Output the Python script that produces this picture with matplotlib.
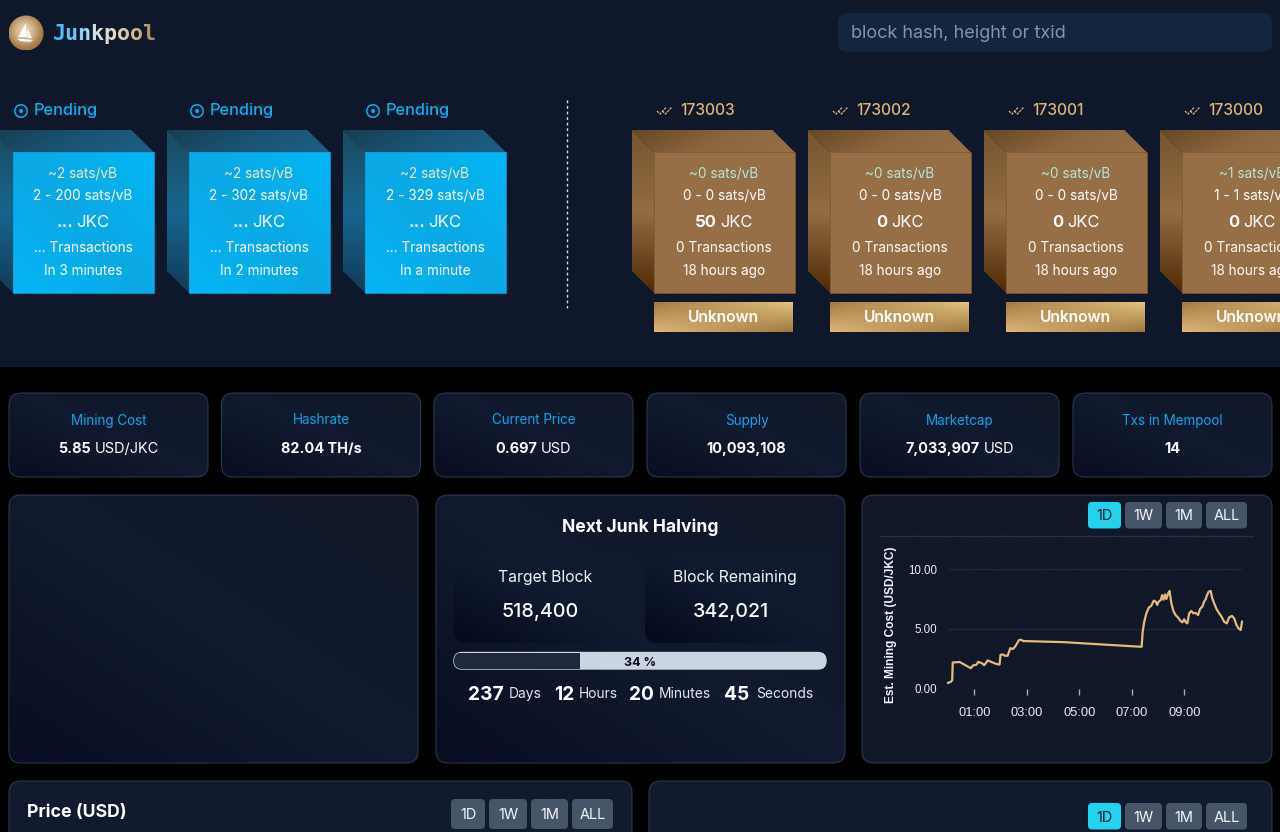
import numpy as np
import matplotlib
matplotlib.use("Agg")
import matplotlib.pyplot as plt
from matplotlib.patches import FancyBboxPatch, Polygon, Circle, Rectangle
from matplotlib.colors import to_rgb

# ---------- data ----------
BRAND = "Junkpool"
SEARCH_HINT = "block hash, height or txid"

pending_fee = ["~2 sats/vB", "~2 sats/vB", "~2 sats/vB"]
pending_range = ["2 - 200 sats/vB", "2 - 302 sats/vB", "2 - 329 sats/vB"]
pending_eta = ["In 3 minutes", "In 2 minutes", "In a minute"]

block_heights = ["173003", "173002", "173001", "173000"]
block_fee = ["~0 sats/vB", "~0 sats/vB", "~0 sats/vB", "~1 sats/vB"]
block_range = ["0 - 0 sats/vB", "0 - 0 sats/vB", "0 - 0 sats/vB", "1 - 1 sats/vB"]
block_reward = ["50", "0", "0", "0"]

stat_titles = ["Mining Cost", "Hashrate", "Current Price", "Supply", "Marketcap", "Txs in Mempool"]
stat_values = ["5.85", "82.04 TH/s", "0.697", "10,093,108", "7,033,907", "14"]
stat_units = ["USD/JKC", "", "USD", "", "USD", ""]

countdown_values = ["237", "12", "20", "45"]
countdown_units = ["Days", "Hours", "Minutes", "Seconds"]
halving_progress = 34
range_buttons = ["1D", "1W", "1M", "ALL"]

cost_hours = [0, .11, .16, .18, .34, .44, .59, .75, .87, .95, 1.08, 1.15, 1.29, 1.38, 1.51, 1.67,
              1.82, 1.96, 2.0, 2.09, 2.16, 2.27, 2.37, 2.47, 2.57, 2.70, 2.77, 2.87, 4.4, 5.9, 7.37,
              7.41, 7.47, 7.55, 7.64, 7.74, 7.83, 7.91, 7.96, 8.02, 8.10, 8.15, 8.20, 8.26, 8.31,
              8.38, 8.43, 8.45, 8.50, 8.58, 8.66, 8.76, 8.85, 8.92, 8.99, 9.05, 9.11, 9.18, 9.26,
              9.34, 9.43, 9.52, 9.59, 9.68, 9.75, 9.81, 9.86, 9.92, 10.0, 10.05, 10.13, 10.22,
              10.30, 10.41, 10.51, 10.61, 10.70, 10.81, 10.89, 10.98, 11.06, 11.14, 11.19]
cost_usd = [.47, .56, .7, 2.18, 2.2, 2.22, 2.04, 1.84, 1.7, 1.93, 1.98, 2.23, 2.12, 1.95, 2.35, 2.2,
            2.07, 2.0, 2.82, 2.85, 2.74, 2.74, 3.38, 3.3, 3.55, 4.05, 4.08, 3.97, 3.88, 3.68, 3.49,
            4.76, 5.59, 6.29, 6.76, 6.93, 7.35, 7.27, 6.99, 7.27, 7.41, 7.82, 7.43, 7.88, 7.49,
            7.96, 8.16, 7.88, 7.13, 6.49, 6.15, 5.93, 5.65, 5.54, 5.79, 5.54, 5.45, 6.29, 6.49,
            6.29, 6.32, 6.15, 6.65, 6.85, 7.27, 7.49, 7.82, 8.10, 8.16, 7.60, 7.13, 6.65,
            6.37, 6.01, 5.59, 5.45, 5.95, 6.07, 5.87, 5.31, 5.03, 4.90, 5.59]
cost_tick_hours = [1, 3, 5, 7, 9]
cost_tick_labels = ["01:00", "03:00", "05:00", "07:00", "09:00"]
cost_y_ticks = [0, 5, 10]
cost_y_labels = ["0.00", "5.00", "10.00"]

# ---------- canvas ----------
W, H = 1280, 832
FONT = "Inter"
fig = plt.figure(figsize=(W / 100, H / 100), dpi=100, facecolor="#000000")
ax = fig.add_axes([0, 0, 1, 1])
ax.set_xlim(0, W)
ax.set_ylim(H, 0)
ax.axis("off")
ax.set_autoscale_on(False)


def c3(col):
    return np.array(to_rgb(col))


def paint_stops(patch, box, stops, angle=(1, 0), z=1):
    x0, y0, x1, y1 = box
    n = 128
    xs, ys = np.meshgrid(np.linspace(0, 1, n), np.linspace(0, 1, n))
    t = xs * angle[0] + ys * angle[1]
    t = (t - t.min()) / max(t.max() - t.min(), 1e-6)
    cols = np.array([c3(s) for s in stops])
    pos = np.linspace(0, 1, len(stops))
    img = np.dstack([np.interp(t, pos, cols[:, i]) for i in range(3)])
    im = ax.imshow(img, extent=(x0, x1, y1, y0), aspect="auto", zorder=z, origin="upper",
                   interpolation="bilinear")
    im.set_clip_path(patch)


def paint_corners(patch, box, tl, tr, bl, br, z=1):
    x0, y0, x1, y1 = box
    xs, ys = np.meshgrid(np.linspace(0, 1, 64), np.linspace(0, 1, 64))
    a, b, c, d = c3(tl), c3(tr), c3(bl), c3(br)
    img = np.dstack([(a[i] * (1 - xs) + b[i] * xs) * (1 - ys) + (c[i] * (1 - xs) + d[i] * xs) * ys
                     for i in range(3)])
    im = ax.imshow(img, extent=(x0, x1, y1, y0), aspect="auto", zorder=z, origin="upper",
                   interpolation="bilinear")
    im.set_clip_path(patch)


def rrect(x0, y0, x1, y1, r, fc="none", ec="none", lw=0, z=1):
    p = FancyBboxPatch((x0 + r, y0 + r), x1 - x0 - 2 * r, y1 - y0 - 2 * r,
                       boxstyle=f"round,pad={r},rounding_size={r}", fc=fc, ec=ec, lw=lw, zorder=z)
    ax.add_patch(p)
    return p


def T(x, y, s, px, color="white", ha="center", weight="normal", family=None, z=6):
    return ax.text(x, y, s, fontsize=px * 0.72, color=color, ha=ha, va="baseline",
                   fontweight=weight, family=family or FONT, zorder=z)


def mixed(cx, y, bold, reg, px, color="white", gap_em=0.28):
    r = fig.canvas.get_renderer()
    a = T(0, y, bold, px, color, ha="left", weight="bold")
    wa = a.get_window_extent(r).width
    wb, b = 0, None
    if reg:
        b = T(0, y, reg, px, color, ha="left")
        wb = b.get_window_extent(r).width
    gap = px * gap_em if reg else 0
    left = cx - (wa + wb + gap) / 2
    a.set_x(left)
    if b is not None:
        b.set_x(left + wa + gap)


# backgrounds
ax.add_patch(Rectangle((0, 0), W, 367, fc="#0f172a", ec="none", zorder=0))

# logo
logo = Circle((26, 33), 17.5, fc="none", ec="none", zorder=1)
ax.add_patch(logo)
xs, ys = np.meshgrid(np.linspace(-1, 1, 80), np.linspace(-1, 1, 80))
rad = np.clip(np.hypot(xs + .1, ys + .1), 0, 1)
inner, outer = c3("#ecd8b8"), c3("#a67a48")
logo_img = np.dstack([inner[i] + (outer[i] - inner[i]) * rad ** 1.4 for i in range(3)])
im = ax.imshow(logo_img, extent=(8.5, 43.5, 50.5, 15.5), aspect="auto", zorder=1, interpolation="bilinear")
im.set_clip_path(logo)
ax.add_patch(Polygon([(26, 23), (27, 37), (18, 37)], fc="white", ec="none", zorder=2))
ax.add_patch(Polygon([(27.5, 29), (32, 38), (27.5, 38)], fc="white", ec="none", zorder=2))
ax.add_patch(Polygon([(17, 38.5), (33, 40), (30, 42), (20, 41)], fc="white", ec="none", zorder=2))

brand_stops = [c3(s) for s in ["#38bdf8", "#6cc9f5", "#cfe2e8", "#e6d9c6", "#d2b68f", "#ad8a58"]]


def brand_filter(img, dpi):
    out = img.copy()
    h, w = img.shape[:2]
    t = np.linspace(0, 1, w)
    pos = np.linspace(0, 1, len(brand_stops))
    for i in range(3):
        out[:, :, i] = np.interp(t, pos, [b[i] for b in brand_stops])[None, :]
    return out, 0, 0


brand = T(52.5, 40, BRAND, 21.6, "#d5e4e6", ha="left", weight="bold", family="DejaVu Sans Mono")
brand.set_agg_filter(brand_filter)

# search
rrect(838, 13, 1272, 52, 9, fc="#13263f")
T(851, 38, SEARCH_HINT, 18.1, "#8492a6", ha="left")

BF = 140.5  # front size px
BD = 22     # depth px


def block(fx, side_stops, top_stops, front_stops, edge):
    y0, y1 = 152, 293
    side = Polygon([(fx - BD, y0 - BD), (fx, y0), (fx, y1), (fx - BD, y1 - BD)], fc="none", ec="none", zorder=1)
    ax.add_patch(side)
    paint_stops(side, (fx - BD, y0 - BD, fx, y1), side_stops, angle=(0, 1), z=1)
    top = Polygon([(fx - BD, y0 - BD), (fx + BF - BD, y0 - BD), (fx + BF, y0), (fx, y0)], fc="none", ec="none", zorder=1)
    ax.add_patch(top)
    paint_stops(top, (fx - BD, y0 - BD, fx + BF, y0), top_stops, angle=(1, .25), z=1)
    front = Rectangle((fx, y0), BF, y1 - y0, fc="none", ec="none", zorder=2)
    ax.add_patch(front)
    paint_stops(front, (fx, y0, fx + BF, y1), front_stops, angle=(1, -1), z=2)
    ax.add_patch(Rectangle((fx, y0), BF, y1 - y0, fc="none", ec=edge, lw=.6, zorder=3))


# pending blocks
for i, fx in enumerate([13, 189, 365]):
    block(fx, ["#1b4a5e", "#176590", "#123a55"], ["#173c52", "#1a5474", "#1b5f86"],
          ["#06b6f6", "#0ba8e4", "#05b8f6"], "#0a9ed8")
    cx = fx + 70
    ax.add_patch(Circle((fx + 8, 111), 6.2, fc="none", ec="#0ab0ee", lw=1.1, zorder=5))
    ax.add_patch(Circle((fx + 8, 111), 2, fc="#0ab0ee", ec="none", zorder=5))
    T(fx + 21, 115, "Pending", 16.4, "#0ab0ee", ha="left", weight="medium")
    T(cx, 178, pending_fee[i], 13.6, "#f3e7c4")
    T(cx, 200, pending_range[i], 13.6)
    mixed(cx, 227, "...", "JKC", 16.8, gap_em=0.2)
    T(cx, 252, "... Transactions", 13.6)
    T(cx, 275, pending_eta[i], 13.6)

# divider
ax.plot([566.5, 566.5], [100, 308], color="#d8dde5", lw=1, ls=(0, (2, 2)), zorder=3)

# confirmed blocks
for i, fx in enumerate([654, 830, 1006, 1182]):
    block(fx, ["#75552f", "#936c42", "#4f2c08"], ["#664624", "#8a6640", "#966f47"],
          ["#966f47", "#966f47", "#966f47"], "#7d5b36")
    cx = fx + 70
    for dx in (0, 6):
        ax.plot(np.array([657, 660, 666]) + dx * .9 + (fx - 654), [111, 114, 107.5], color="#dcb478",
                lw=.9, ls=(0, (2, .8)), zorder=5)
    T(fx + 26, 115, block_heights[i], 15.6, "#dcb478", ha="left", weight="medium")
    T(cx, 178, block_fee[i], 13.6, "#b4e6dc")
    T(cx, 200, block_range[i], 13.6)
    mixed(cx, 227, block_reward[i], "JKC", 16.6, gap_em=0.22)
    T(cx, 252, "0 Transactions", 13.6)
    T(cx, 275, "18 hours ago", 13.6)
    btn = Rectangle((fx, 302), 139, 30, fc="none", ec="none", zorder=2)
    ax.add_patch(btn)
    paint_corners(btn, (fx, 302, fx + 139, 332), "#a07a45", "#e4c47e", "#e0b878", "#9c763f", z=2)
    T(fx + 69, 321.5, "Unknown", 15.6, weight="semibold")


def card(x0, y0, x1, y1, r=12, stops=("#090e22", "#111a2e", "#101829"), z=1):
    p = rrect(x0, y0, x1, y1, r, fc="none", z=z)
    paint_stops(p, (x0, y0, x1, y1), list(stops), angle=(1, -1), z=z)
    rrect(x0, y0, x1, y1, r, fc="none", ec="#2a3a50", lw=.75, z=z + 1)


# stat cards
stat_left = [9, 221.5, 434, 647, 860, 1073]
for i, x0 in enumerate(stat_left):
    card(x0, 393, x0 + 199, 477)
    cx = x0 + 99.5
    T(cx, 424.5, stat_titles[i], 13.5, "#0ea5e9")
    mixed(cx, 453, stat_values[i], stat_units[i], 14.5)

# panels
card(9, 495, 418, 763)
card(436, 495, 845, 763)
card(862, 495, 1272, 763, stops=("#101829", "#101829", "#101829"))
card(9, 781, 632, 860, stops=("#111a2e", "#111a2e", "#111a2e"))
card(649, 781, 1272, 860, stops=("#111a2e", "#111a2e", "#111a2e"))

# halving panel
T(640, 532, "Next Junk Halving", 17.5, weight="bold")
for x0, x1 in [(454, 640), (645, 835)]:
    p = rrect(x0, 548, x1, 643, 12, fc="none", z=2)
    paint_stops(p, (x0, 548, x1, 643), ["#050a1e", "#101a2e", "#111a2e"], angle=(1, -1), z=2)
T(545, 582, "Target Block", 15.7, "#f1f5f9", z=6)
T(735, 582, "Block Remaining", 15.8, "#f1f5f9", z=6)
T(540, 617, "518,400", 19.6, "#f8fafc", weight="medium")
T(731, 617, "342,021", 19.6, "#f8fafc", weight="medium")

BAR_X0, BAR_X1 = 454, 826
rrect(BAR_X0, 652.5, BAR_X1, 669, 8, fc="#cbd5e1", ec="#cbd5e1", lw=1, z=3)
bar_clip = rrect(BAR_X0, 652.5, BAR_X1, 669, 8, fc="none", z=3)
fill = Rectangle((BAR_X0, 652.5), (BAR_X1 - BAR_X0) * halving_progress / 100, 16.5, fc="#1e293b", ec="none", zorder=4)
ax.add_patch(fill)
fill.set_clip_path(bar_clip)
T(640, 665.5, f"{halving_progress} %", 12.5, "#0b0f19", weight="bold")

for val, unit, xv, xu in zip(countdown_values, countdown_units, [468, 554, 629, 724], [509, 579, 659, 756]):
    T(xv, 699.5, val, 19.2, ha="left", weight="bold")
    T(xu, 698, unit, 13.8, "#e2e8f0", ha="left")


# range buttons
def buttons(lefts, rights, y0, y1, base, active):
    for j, lab in enumerate(range_buttons):
        on = active and j == 0
        rrect(lefts[j], y0, rights[j], y1, 4, fc="#22d3ee" if on else "#475569", z=3)
        T((lefts[j] + rights[j]) / 2, base, lab, 14.5, "#0f172a" if on else "#f1f5f9")


R_L, R_R = [1088, 1125, 1166, 1206], [1121, 1162, 1202, 1247]
buttons(R_L, R_R, 502, 528.5, 520.5, True)
buttons(R_L, R_R, 803, 829.5, 821.5, True)
buttons([451, 489, 531, 572], [485, 527, 568, 613], 799, 829, 819, False)
T(27, 817, "Price (USD)", 17.7, ha="left", weight="bold")
ax.plot([880, 1253], [536, 536], color="#243244", lw=1, zorder=3)

# mining cost chart
PX_L, PX_R, PX_T, PX_B = 948, 1242, 569, 688.5
cax = fig.add_axes([PX_L / W, 1 - PX_B / H, (PX_R - PX_L) / W, (PX_B - PX_T) / H], zorder=5)
cax.patch.set_alpha(0)
cax.plot(cost_hours, cost_usd, color="#e5bb7d", lw=1.6, clip_on=False, solid_joinstyle="round")
cax.set_xlim(0, 11.19)
cax.set_ylim(0, 10)
for s in cax.spines.values():
    s.set_visible(False)
cax.set_yticks(cost_y_ticks, cost_y_labels, family="Liberation Sans", fontsize=8.3, color="#e8ecf2")
cax.set_xticks(cost_tick_hours, cost_tick_labels, family="Liberation Sans", fontsize=9.3, color="#e8ecf2")
cax.tick_params(axis="y", length=0, pad=8)
cax.tick_params(axis="x", length=4, width=1, color="#a3abb8", pad=9)
cax.xaxis.set_tick_params(direction="out")
cax.grid(axis="y", color="#1e293b", lw=1)
cax.set_axisbelow(True)
cax.set_ylabel("Est. Mining Cost (USD/JKC)", family="Liberation Sans", fontweight="bold", fontsize=8.6,
               color="#f1f5f9")
cax.yaxis.set_label_coords((897 - PX_L) / (PX_R - PX_L), (PX_B - 625) / (PX_B - PX_T))

ax.set_xlim(0, W)
ax.set_ylim(H, 0)
fig.savefig("out.png", dpi=100, facecolor=fig.get_facecolor())
